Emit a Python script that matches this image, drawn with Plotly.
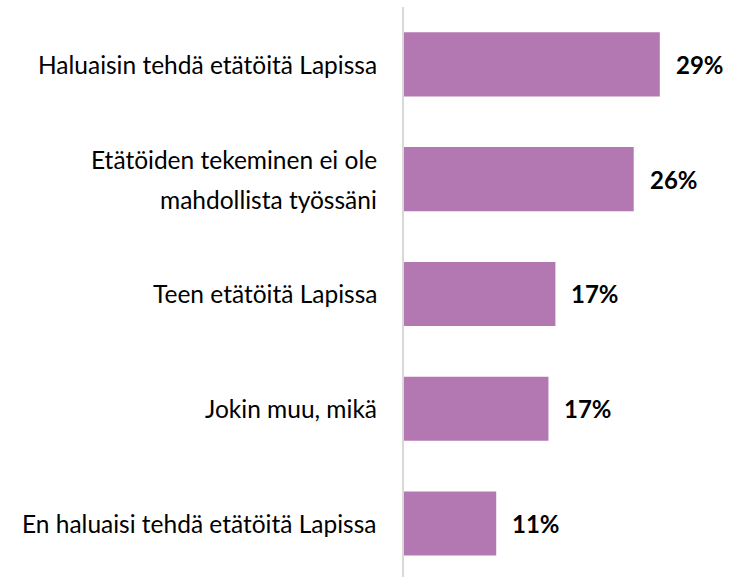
import plotly.graph_objects as go

# Survey answers (share of respondents)
categories = [
    "Haluaisin tehdä etätöitä Lapissa",
    "Etätöiden tekeminen ei ole mahdollista työssäni",
    "Teen etätöitä Lapissa",
    "Jokin muu, mikä",
    "En haluaisi tehdä etätöitä Lapissa",
]
shares = [0.294, 0.264, 0.174, 0.166, 0.106]

# Category labels, split into display lines
label_lines = [
    ["Haluaisin tehdä etätöitä Lapissa"],
    ["Etätöiden tekeminen ei ole", "mahdollista työssäni"],
    ["Teen etätöitä Lapissa"],
    ["Jokin muu, mikä"],
    ["En haluaisi tehdä etätöitä Lapissa"],
]

BAR_COLOR = "#b378b1"
FONT = "Lato"
LABEL_SIZE = 24.5
VALUE_SIZE = 24

fig = go.Figure(
    go.Bar(
        x=shares,
        y=categories,
        orientation="h",
        marker=dict(color=BAR_COLOR, line=dict(width=0)),
        hoverinfo="skip",
    )
)

annotations = []
line_gap = 40
for cat, lines in zip(categories, label_lines):
    n = len(lines)
    for i, line in enumerate(lines):
        annotations.append(
            dict(
                text=line,
                xref="paper",
                x=0,
                yref="y",
                y=cat,
                xanchor="right",
                yanchor="middle",
                xshift=-25,
                yshift=((n - 1) / 2 - i) * line_gap,
                showarrow=False,
                align="center",
                font=dict(family=FONT, size=LABEL_SIZE, color="#000000"),
            )
        )

for cat, v in zip(categories, shares):
    annotations.append(
        dict(
            text=f"<b>{round(v * 100):d}%</b>",
            x=v,
            xref="x",
            y=cat,
            yref="y",
            xanchor="left",
            yanchor="middle",
            xshift=14,
            showarrow=False,
            font=dict(family=FONT, size=VALUE_SIZE, color="#000000"),
        )
    )

fig.update_layout(
    width=739,
    height=577,
    margin=dict(l=404, r=0, t=7, b=0),
    paper_bgcolor="white",
    plot_bgcolor="white",
    bargap=0.442,
    showlegend=False,
    annotations=annotations,
    xaxis=dict(
        range=[0, 0.385],
        visible=False,
        showgrid=False,
        zeroline=False,
    ),
    yaxis=dict(
        type="category",
        range=[4.467, -0.5],
        showticklabels=False,
        showgrid=False,
        zeroline=False,
        showline=True,
        linecolor="#d9d9d9",
        linewidth=1.5,
        ticks="",
    ),
)

fig.write_html("out.html")
